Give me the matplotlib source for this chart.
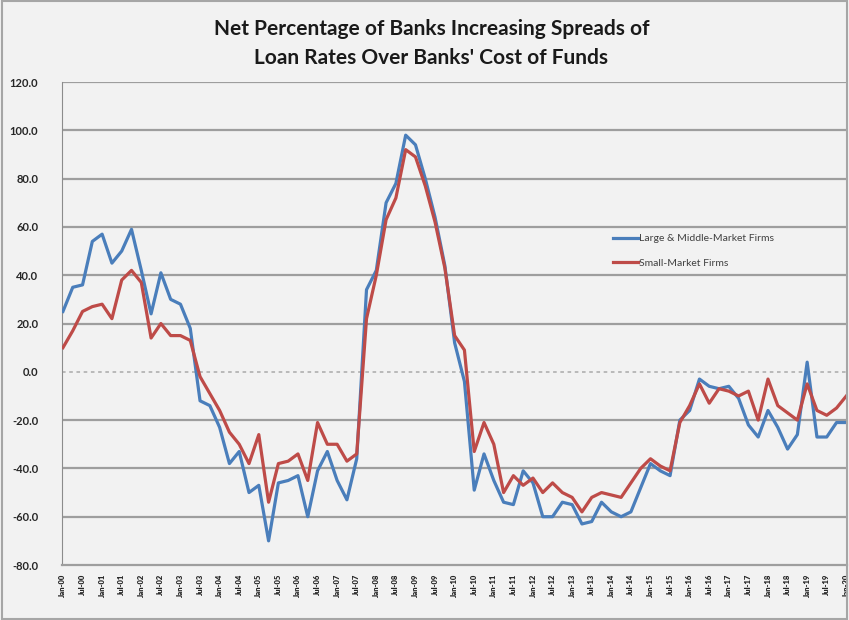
import matplotlib.pyplot as plt
import numpy as np

# quarterly survey values, Q1 2000 .. Q1 2020
large_mid = [25, 35, 36, 54, 57, 45, 50, 59, 42, 24,
             41, 30, 28, 18, -12, -14, -23, -38, -33, -50,
             -47, -70, -46, -45, -43, -60, -41, -33, -45, -53,
             -36, 34, 42, 70, 78, 98, 94, 80, 64, 44,
             12, -4, -49, -34, -45, -54, -55, -41, -46, -60,
             -60, -54, -55, -63, -62, -54, -58, -60, -58, -48,
             -38, -41, -43, -20, -16, -3, -6, -7, -6, -11,
             -22, -27, -16, -23, -32, -26, 4, -27, -27, -21,
             -21]
small = [10, 17, 25, 27, 28, 22, 38, 42, 37, 14,
         20, 15, 15, 13, -2, -9, -16, -25, -30, -38,
         -26, -54, -38, -37, -34, -45, -21, -30, -30, -37,
         -34, 22, 40, 63, 72, 92, 89, 77, 62, 43,
         15, 9, -33, -21, -30, -50, -43, -47, -44, -50,
         -46, -50, -52, -58, -52, -50, -51, -52, -46, -40,
         -36, -39, -41, -21, -14, -5, -13, -7, -8, -10,
         -8, -20, -3, -14, -17, -20, -5, -16, -18, -15,
         -10]

# tick labels every half year
tick_labels = []
for yr in range(0, 21):
    tick_labels.append(f'Jan-{yr:02d}')
    if yr < 20:
        tick_labels.append(f'Jul-{yr:02d}')

x = np.arange(len(large_mid))

bg = '#f2f2f2'
fig = plt.figure(figsize=(8.49, 6.2), dpi=100, facecolor=bg)
ax = fig.add_axes([0.073, 0.0887, 0.925, 0.779])
ax.set_facecolor(bg)

# border round the whole picture
fig.patches.append(plt.Rectangle((0.002, 0.002), 0.996, 0.996, transform=fig.transFigure,
                                 fill=False, edgecolor='#a6a6a6', linewidth=1.5))

yt = np.arange(-80, 121, 20)
for v in yt:
    if v == 0:
        ax.axhline(v, color='#b5b5b5', linestyle=(0, (2, 2)), linewidth=1.3, zorder=1)
    elif v != -80:
        ax.axhline(v, color='#9e9e9e', linewidth=1.6, zorder=1)

ax.plot(x, large_mid, color='#4a7ebb', linewidth=2.3, label='Large & Middle-Market Firms', zorder=3)
ax.plot(x, small, color='#be4b48', linewidth=2.3, label='Small-Market Firms', zorder=3)

ax.set_ylim(-80, 120)
ax.set_xlim(-0.1, 80.1)
ax.set_yticks(yt)
ax.set_yticklabels([f'{v:.1f}' for v in yt], fontsize=8, fontweight='bold', fontfamily='Lato')
ax.set_xticks(np.arange(0, 81, 2))
ax.set_xticklabels(tick_labels, rotation=90, fontsize=5.5, fontweight='heavy', fontfamily='Lato')
ax.tick_params(axis='both', length=0, colors='#262626')
ax.tick_params(axis='x', pad=6)
ax.tick_params(axis='y', pad=17)

for s in ['top', 'right']:
    ax.spines[s].set_visible(False)
ax.spines['left'].set_color('#8c8c8c')
ax.spines['bottom'].set_color('#9e9e9e')
ax.spines['bottom'].set_linewidth(1.6)

leg = ax.legend(loc='upper left', bbox_to_anchor=(0.69, 0.705), frameon=False,
                prop={'family': 'Lato', 'size': 7.5}, handlelength=2.4, handletextpad=0.1,
                labelspacing=1.5)
for t in leg.get_texts():
    t.set_color('#404040')

fig.text(0.508, 0.953, 'Net Percentage of Banks Increasing Spreads of',
         ha='center', va='center', fontsize=15, fontweight='bold', fontfamily='Lato', color='#1a1a1a')
fig.text(0.508, 0.906, "Loan Rates Over Banks' Cost of Funds",
         ha='center', va='center', fontsize=15, fontweight='bold', fontfamily='Lato', color='#1a1a1a')

fig.savefig('out.png', dpi=100, facecolor=bg)
